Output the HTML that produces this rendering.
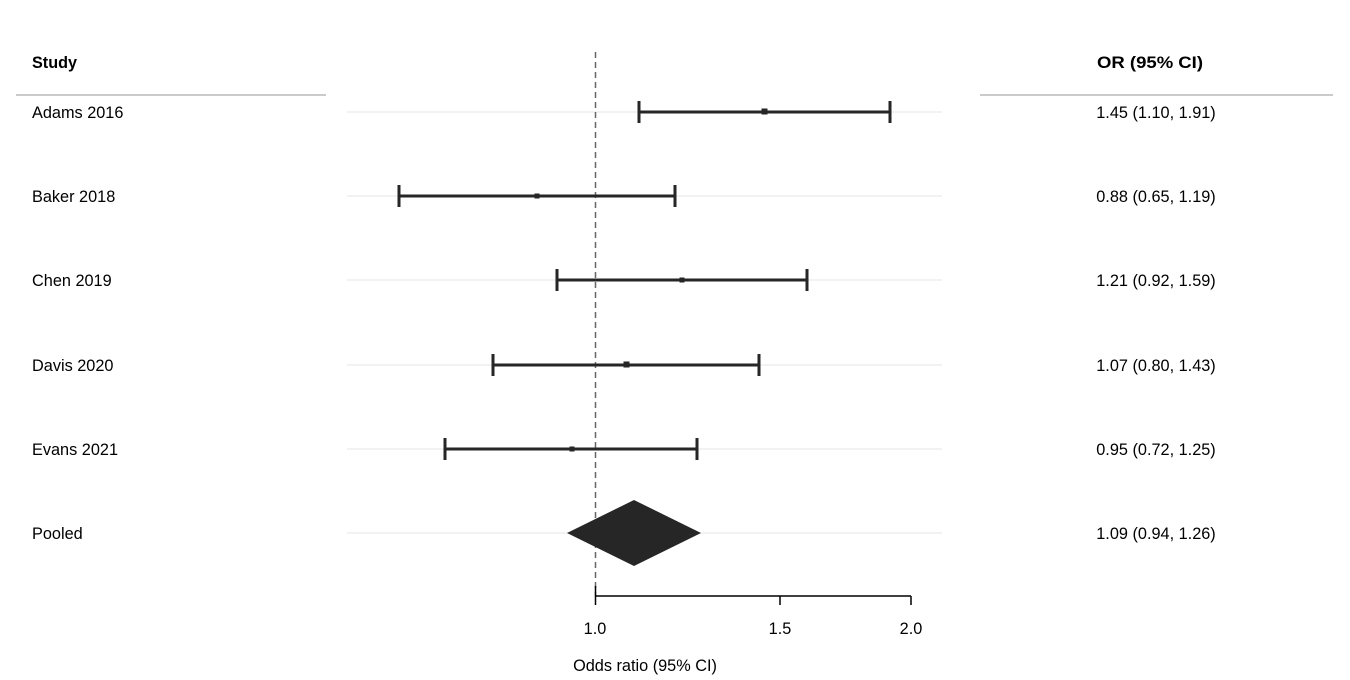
<!DOCTYPE html>
<html><head><meta charset="utf-8"><style>
body{margin:0;background:#fff;}
svg text{font-family:"Liberation Sans",Arial,sans-serif;font-size:16.3px;fill:#000;}
</style></head><body>
<svg width="1350" height="675" xmlns="http://www.w3.org/2000/svg">
<rect width="1350" height="675" fill="#fff"/>
<text x="32" y="68" font-weight="bold" textLength="45" lengthAdjust="spacingAndGlyphs">Study</text>
<text x="1097" y="68" font-weight="bold" textLength="106" lengthAdjust="spacingAndGlyphs">OR (95% CI)</text>
<line x1="16" y1="95" x2="326" y2="95" stroke="#aaa" stroke-width="1.2"/>
<line x1="980" y1="95" x2="1333" y2="95" stroke="#aaa" stroke-width="1.2"/>
<g stroke="#e6e6e6" stroke-width="1">
<line x1="347" y1="112" x2="942" y2="112"/><line x1="347" y1="196" x2="942" y2="196"/>
<line x1="347" y1="280" x2="942" y2="280"/><line x1="347" y1="365" x2="942" y2="365"/>
<line x1="347" y1="449" x2="942" y2="449"/><line x1="347" y1="533" x2="942" y2="533"/>
</g>
<line x1="595.5" y1="52" x2="595.5" y2="596" stroke="#666" stroke-width="1.5" stroke-dasharray="6,4"/>
<g stroke="#262626" stroke-width="3" fill="#262626">
<line x1="639" y1="112" x2="890" y2="112"/><line x1="639" y1="101" x2="639" y2="123"/><line x1="890" y1="101" x2="890" y2="123"/>
<rect x="762" y="109" width="5" height="5" stroke-width="1"/>
<line x1="399" y1="196" x2="675" y2="196"/><line x1="399" y1="185" x2="399" y2="207"/><line x1="675" y1="185" x2="675" y2="207"/>
<rect x="535" y="194" width="4" height="4" stroke-width="1"/>
<line x1="557" y1="280" x2="807" y2="280"/><line x1="557" y1="269" x2="557" y2="291"/><line x1="807" y1="269" x2="807" y2="291"/>
<rect x="680" y="278" width="4" height="4" stroke-width="1"/>
<line x1="493" y1="365" x2="759" y2="365"/><line x1="493" y1="354" x2="493" y2="376"/><line x1="759" y1="354" x2="759" y2="376"/>
<rect x="624" y="362" width="5" height="5" stroke-width="1"/>
<line x1="445" y1="449" x2="697" y2="449"/><line x1="445" y1="438" x2="445" y2="460"/><line x1="697" y1="438" x2="697" y2="460"/>
<rect x="570" y="447" width="4" height="4" stroke-width="1"/>
</g>
<polygon points="567,533 634,500 701,533 634,566" fill="#262626"/>
<g stroke="#000" stroke-width="1.5">
<line x1="595" y1="596" x2="911" y2="596"/>
<line x1="595.5" y1="586" x2="595.5" y2="605"/><line x1="780" y1="596" x2="780" y2="605"/><line x1="911" y1="596" x2="911" y2="605"/>
</g>
<text x="595" y="634" text-anchor="middle">1.0</text>
<text x="780" y="634" text-anchor="middle">1.5</text>
<text x="911" y="634" text-anchor="middle">2.0</text>
<text x="645" y="671" text-anchor="middle">Odds ratio (95% CI)</text>
<text x="32" y="118">Adams 2016</text><text x="32" y="202">Baker 2018</text>
<text x="32" y="286">Chen 2019</text><text x="32" y="371">Davis 2020</text>
<text x="32" y="455">Evans 2021</text><text x="32" y="539">Pooled</text>
<g text-anchor="middle">
<text x="1156" y="118">1.45 (1.10, 1.91)</text><text x="1156" y="202">0.88 (0.65, 1.19)</text>
<text x="1156" y="286">1.21 (0.92, 1.59)</text><text x="1156" y="371">1.07 (0.80, 1.43)</text>
<text x="1156" y="455">0.95 (0.72, 1.25)</text><text x="1156" y="539">1.09 (0.94, 1.26)</text>
</g>
</svg>
</body></html>
